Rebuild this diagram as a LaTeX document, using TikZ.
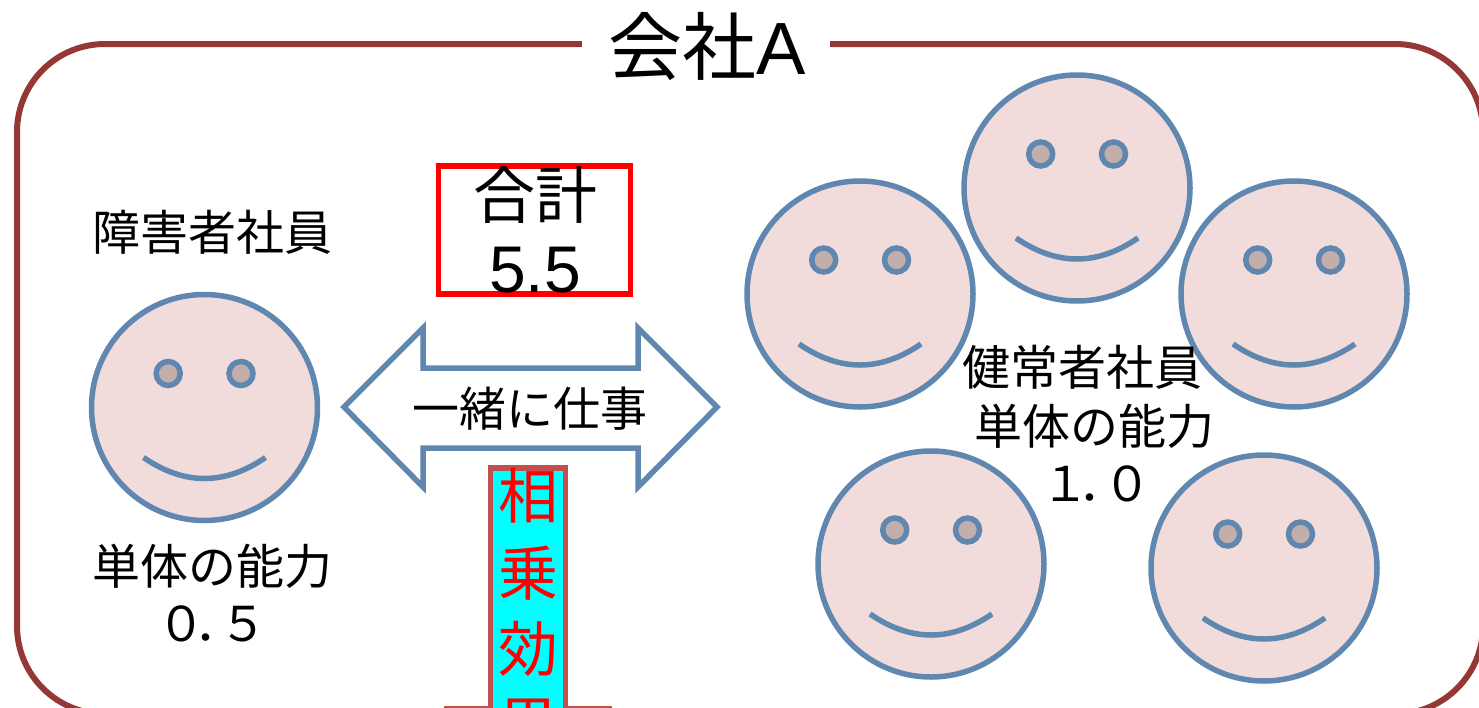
\documentclass[tikz,border=0pt]{standalone}
\usepackage{fontspec}
\setmainfont{Noto Sans CJK JP}
\newfontfamily\latinfont{Liberation Sans}
\definecolor{framered}{HTML}{953735}
\definecolor{barred}{HTML}{C0504D}
\definecolor{barcyan}{HTML}{00FFFF}
\definecolor{faceblue}{HTML}{5F87B0}
\definecolor{facepink}{HTML}{F2DCDB}
\definecolor{eyegrey}{HTML}{C2AFAC}
\tikzset{
  face/.style={circle,draw=faceblue,fill=facepink,line width=5.5pt,minimum size=226pt,inner sep=0pt,outer sep=0pt},
  eye/.style={draw=faceblue,fill=eyegrey,line width=5.5pt},
  mouth/.style={draw=faceblue,line width=5.5pt},
  label/.style={inner sep=0pt,font=\fontsize{48}{48}\selectfont},
  synergy/.style={inner sep=0pt,text=red,font=\fontsize{60}{60}\selectfont}
}

\begin{document}
\begin{tikzpicture}[x=1pt,y=-1pt]
  \useasboundingbox (0,0) rectangle (1479,707);

  \draw[framered,line width=6pt,rounded corners=88pt] (17,44) rectangle (1483,714);
  \node[fill=white,minimum width=248pt,minimum height=20pt,inner sep=0pt] at (706,44) (titlegap){};
  \node[inner sep=0pt,font=\fontsize{74}{74}\selectfont] at (707,46) (title){会社\latinfont A};

  \foreach \n/\x/\y in {single/204.5/407.5,a/860/294,b/1077/188,c/1294/294,d/931/564,e/1264/568}{
    \node[face] at (\x,\y) (face\n){};
    \draw[eye] ([shift={(-36.3,-34)}]face\n.center) circle (12);
    \draw[eye] ([shift={(36.5,-34)}]face\n.center) circle (12);
    \draw[mouth] ([shift={(-61,50)}]face\n.center) .. controls ([shift={(-20,78)}]face\n.center) and ([shift={(20,78)}]face\n.center) .. ([shift={(61,50)}]face\n.center);
  }

  \node[label] at (212,232) (disabled){障害者社員};
  \node[label] at (212,566) (singlea){単体の能力};
  \node[label] at (212,624) (valuea){０\kern-11pt．\kern-23pt５};
  \node[label] at (1082,367) (healthy){健常者社員};
  \node[label] at (1094,426) (singleb){単体の能力};
  \node[label] at (1096,484) (valueb){１\kern-11pt．\kern-23pt０};

  \node[draw=red,line width=5.5pt,minimum width=192pt,minimum height=128pt,inner sep=0pt] at (534.5,230) (total){};
  \node[inner sep=0pt,font=\fontsize{62}{62}\selectfont] at (535,195) (totallabel){合計};
  \node[inner sep=0pt,font=\latinfont\fontsize{66}{66}\selectfont] at (535,270) (totalvalue){5.5};

  \draw[faceblue,line width=5.5pt,fill=white] (344,407) -- (423,328) -- (423,368) -- (638,368) -- (638,328)
    -- (717,407) -- (638,487) -- (638,448) -- (423,448) -- (423,487) -- cycle;
  \node[inner sep=0pt,font=\fontsize{47}{47}\selectfont] at (530,409) (together){一緒に仕事};

  \draw[barred,line width=5.5pt,fill=barcyan] (490.5,468) -- (565.5,468) -- (565.5,708.5) -- (609,708.5) -- (609,730)
    -- (447,730) -- (447,708.5) -- (490.5,708.5) -- cycle;
  \node[synergy] at (528,496) (synergya){相};
  \node[synergy] at (528,573) (synergyb){乗};
  \node[synergy] at (528,649) (synergyc){効};
  \node[synergy] at (528,725) (synergyd){果};
\end{tikzpicture}
\end{document}
